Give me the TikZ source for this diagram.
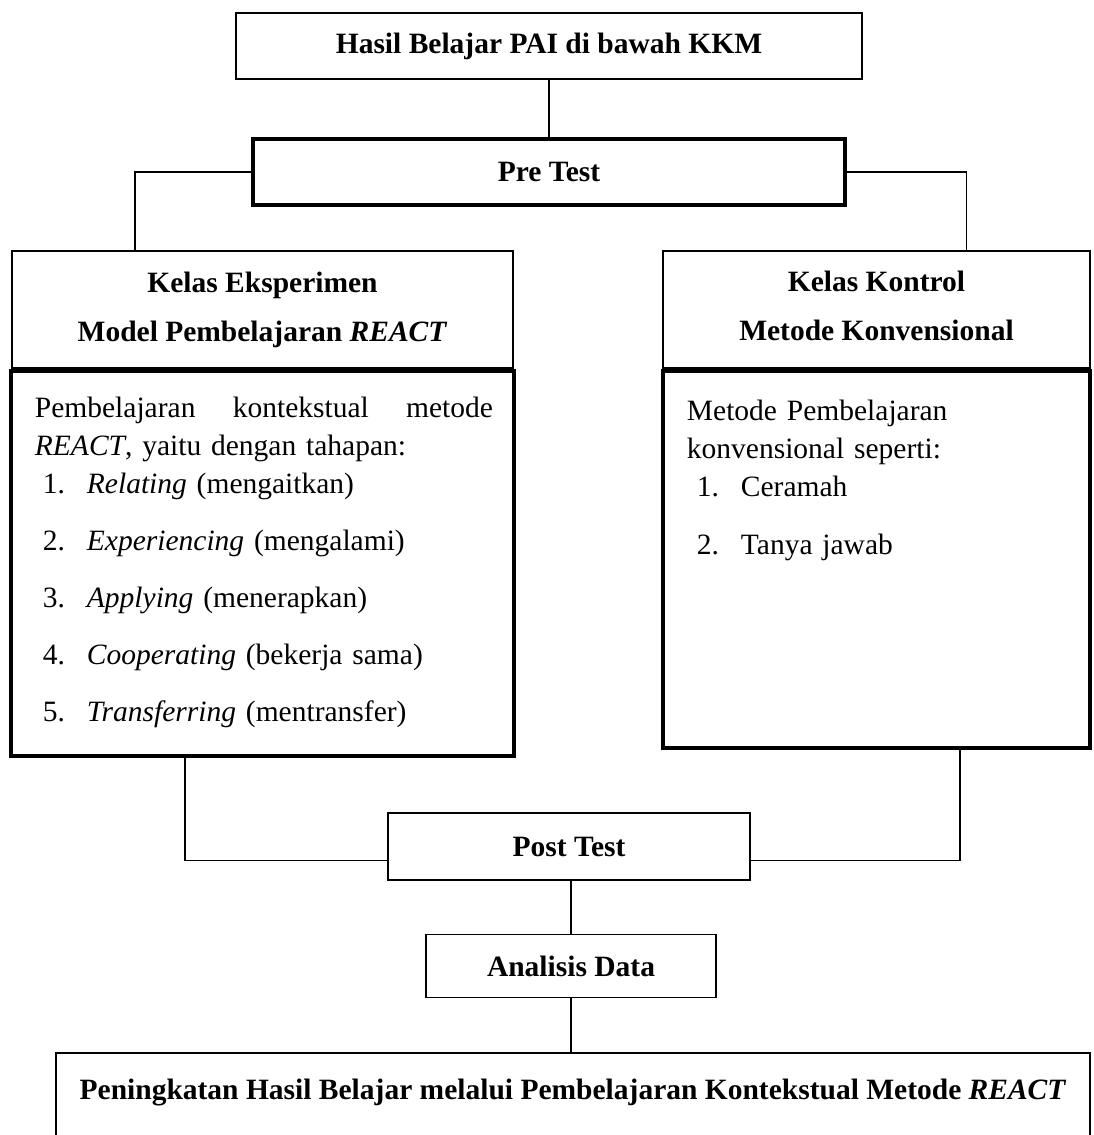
\documentclass[tikz,border=0pt]{standalone}
\usepackage{fontspec}
\setmainfont{Liberation Serif}
\usetikzlibrary{positioning}
\newcommand{\hurufjudul}{\fontsize{29.5pt}{49pt}\selectfont\bfseries}
\newcommand{\hurufisi}{\fontsize{29.5pt}{38pt}\selectfont}
\newcommand{\nomor}[1]{\makebox[44pt][l]{#1}}
\tikzset{
  kotak/.style={rectangle, draw, line width=1.8pt, align=center,
                inner sep=0pt, font=\hurufjudul},
  kotaktebal/.style={kotak, line width=4pt},
  isibox/.style={rectangle, draw, line width=4.5pt, inner sep=0pt},
  isiteks/.style={anchor=north west, inner sep=0pt, align=left, font=\hurufisi},
  garis/.style={line width=1.8pt}
}

\begin{document}
\begin{tikzpicture}[x=1pt, y=-1pt]
    \useasboundingbox (0,0) rectangle (1093,1135);
    \node[kotak, minimum width=626pt, minimum height=66pt] (hasil) at (549,46)
          {Hasil Belajar PAI di bawah KKM};
    \node[kotaktebal, minimum width=592pt, minimum height=66pt] (pre) at (549,172)
          {Pre Test};
    % kelas eksperimen
    \node[kotak, minimum width=501pt, minimum height=117pt] (eksH) at (262.5,309.5)
          {Kelas Eksperimen\\Model Pembelajaran \textit{REACT}};
    \node[isibox, minimum width=503pt, minimum height=385pt, below=0pt of eksH] (eksB) {};
    \node[isiteks, text width=458pt] (eksT) at ([xshift=26pt, yshift=-28pt]eksB.north west)
          {Pembelajaran\hfill kontekstual\hfill metode\\
           \textit{REACT}, yaitu dengan tahapan:\\
           \hspace*{8pt}\nomor{1.}\textit{Relating} (mengaitkan)\\[19pt]
           \hspace*{8pt}\nomor{2.}\textit{Experiencing} (mengalami)\\[19pt]
           \hspace*{8pt}\nomor{3.}\textit{Applying} (menerapkan)\\[19pt]
           \hspace*{8pt}\nomor{4.}\textit{Cooperating} (bekerja sama)\\[19pt]
           \hspace*{8pt}\nomor{5.}\textit{Transferring} (mentransfer)};
    % kelas kontrol
    \node[kotak, minimum width=427pt, minimum height=117pt, text depth=6.5pt] (konH) at (876.5,309.5)
          {Kelas Kontrol\\Metode Konvensional};
    \node[isibox, minimum width=427pt, minimum height=377pt, below=0pt of konH] (konB) {};
    \node[isiteks, text width=380pt] (konT) at ([xshift=26pt, yshift=-31pt]konB.north west)
          {Metode Pembelajaran\\
           konvensional seperti:\\
           \hspace*{10pt}\nomor{1.}Ceramah\\[20pt]
           \hspace*{10pt}\nomor{2.}Tanya jawab};
    % bawah
    \node[kotak, minimum width=362pt, minimum height=67pt] (post) at (569,846.5)
          {Post Test};
    \node[kotak, minimum width=290pt, minimum height=63pt] (ana) at (571,966)
          {Analisis Data};
    \node[kotak, minimum width=1034pt, minimum height=90pt, text depth=18pt] (akhir) at (573,1098)
          {Peningkatan Hasil Belajar melalui Pembelajaran Kontekstual Metode \textit{REACT}};

    \draw[garis] (hasil) -- (pre);
    \draw[garis] (pre.west) -| ([xshift=-127.5pt]eksH.north);
    \draw[garis] (pre.east) -| ([xshift=90pt]konH.north);
    \draw[garis] ([xshift=-77.5pt]eksB.south) |- ([yshift=-14pt]post.west);
    \draw[garis] ([xshift=83.5pt]konB.south) |- ([yshift=-14pt]post.east);
    \draw[garis] (ana.north) -- (ana.north |- post.south);
    \draw[garis] (ana.south) -- (ana.south |- akhir.north);
\end{tikzpicture}
\end{document}
